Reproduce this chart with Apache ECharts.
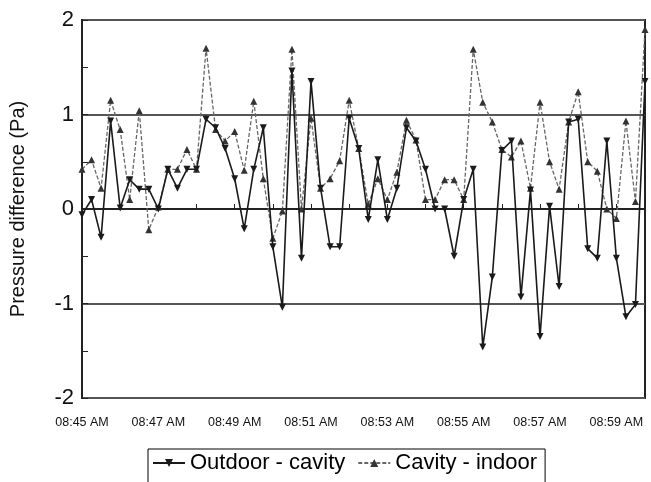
<!DOCTYPE html>
<html>
<head>
<meta charset="utf-8">
<script src="https://cdn.jsdelivr.net/npm/echarts@6/dist/echarts.min.js"></script>
<style>
html,body{margin:0;padding:0;background:#fff;}
#chart{width:651px;height:482px;}
</style>
</head>
<body>
<div id="chart"></div>
<script>
// 15-second samples from 08:45:00 to 08:59:45
var startHour = 8, startMinute = 45, stepSeconds = 15, sampleCount = 60;
var categories = [];
for (var i = 0; i < sampleCount; i++) {
  var s = i * stepSeconds;
  var m = startMinute + Math.floor(s / 60);
  var sec = s % 60;
  categories.push('0' + startHour + ':' + (m < 10 ? '0' + m : m) + ':' + (sec < 10 ? '0' + sec : sec));
}

var seriesNames = ['Outdoor - cavity', 'Cavity - indoor'];

var outdoorCavity = [
  -0.06, 0.10, -0.30, 0.93, 0.01, 0.31, 0.21, 0.21, 0.00, 0.42,
  0.22, 0.42, 0.42, 0.95, 0.86, 0.64, 0.32, -0.21, 0.42, 0.86,
  -0.40, -1.04, 1.46, -0.52, 1.35, 0.22, -0.40, -0.40, 0.96, 0.64,
  -0.11, 0.52, -0.11, 0.22, 0.86, 0.72, 0.42, 0.00, 0.00, -0.50,
  0.10, 0.42, -1.46, -0.72, 0.62, 0.72, -0.93, 0.20, -1.35, 0.03,
  -0.82, 0.92, 0.95, -0.42, -0.52, 0.72, -0.52, -1.14, -1.01, 1.35
];

var cavityIndoor = [
  0.42, 0.52, 0.22, 1.15, 0.84, 0.10, 1.04, -0.22, 0.02, 0.42,
  0.42, 0.63, 0.42, 1.70, 0.84, 0.72, 0.82, 0.41, 1.14, 0.32,
  -0.31, -0.02, 1.69, 0.00, 0.96, 0.22, 0.32, 0.51, 1.15, 0.64,
  0.05, 0.32, 0.10, 0.39, 0.94, 0.73, 0.10, 0.10, 0.31, 0.31,
  0.10, 1.69, 1.13, 0.92, 0.63, 0.55, 0.72, 0.22, 1.13, 0.50,
  0.21, 0.92, 1.24, 0.50, 0.40, 0.00, -0.10, 0.93, 0.08, 1.90
];

var yMin = -2, yMax = 2, yStep = 1;

var chart = echarts.init(document.getElementById('chart'), null, {renderer: 'canvas'});
chart.setOption({
  animation: false,
  backgroundColor: '#fff',
  textStyle: {fontFamily: 'Liberation Sans, Arial, sans-serif'},
  grid: {left: 82, right: 6, top: 20, bottom: 84, show: true, borderColor: '#222', borderWidth: 2, backgroundColor: 'transparent'},
  legend: {
    data: seriesNames,
    left: 148, top: 449,
    backgroundColor: '#fff',
    borderColor: '#000', borderWidth: 1,
    padding: [3, 8, 10, 4],
    itemGap: 12, itemWidth: 32, itemHeight: 10,
    textStyle: {fontSize: 22, color: '#000', fontFamily: 'Liberation Sans, Arial, sans-serif'}
  },
  xAxis: {
    type: 'category',
    data: categories,
    boundaryGap: false,
    axisLine: {show: true, lineStyle: {color: '#222', width: 2}},
    axisTick: {show: true, inside: true, interval: 3, length: 5, lineStyle: {color: '#222', width: 1}},
    axisLabel: {
      interval: 7, margin: 18, fontSize: 12.5, color: '#111',
      formatter: function (v) { return v.slice(0, 5) + ' AM'; }
    },
    splitLine: {show: false}
  },
  yAxis: {
    type: 'value',
    min: yMin, max: yMax, interval: yStep,
    name: 'Pressure difference (Pa)',
    nameLocation: 'middle', nameGap: 54, nameRotate: 90,
    nameTextStyle: {fontSize: 20, color: '#111'},
    axisLine: {show: true, lineStyle: {color: '#222', width: 2}},
    axisTick: {show: true, inside: true, length: 6, lineStyle: {color: '#222'}},
    minorTick: {show: true, splitNumber: 2, length: 6, lineStyle: {color: '#222'}},
    axisLabel: {fontSize: 22, color: '#111', margin: 8},
    splitLine: {show: true, lineStyle: {color: '#555', width: 2}}
  },
  series: [
    {
      name: seriesNames[0], type: 'line', data: outdoorCavity,
      symbol: 'triangle', symbolRotate: 180, symbolSize: 7, showSymbol: true, showAllSymbol: true,
      lineStyle: {color: '#1a1a1a', width: 1.6, type: 'solid'},
      itemStyle: {color: '#1a1a1a'}, z: 3
    },
    {
      name: seriesNames[1], type: 'line', data: cavityIndoor,
      symbol: 'triangle', symbolSize: 7, showSymbol: true, showAllSymbol: true,
      lineStyle: {color: '#666', width: 1.3, type: [4, 2]},
      itemStyle: {color: '#333'}, z: 2
    }
  ]
});
</script>
</body>
</html>
